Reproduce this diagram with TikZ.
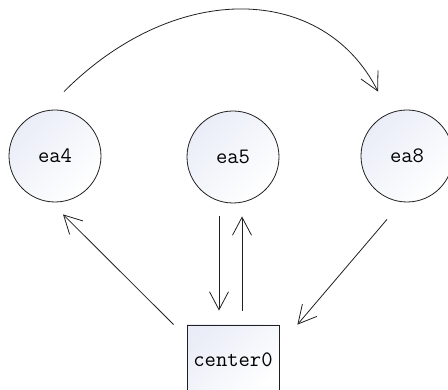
\documentclass[tikz,border=0pt]{standalone}
\usetikzlibrary{arrows.meta,calc}
\definecolor{nodetint}{HTML}{EAEDF7}
\definecolor{inkline}{HTML}{202020}
\tikzset{
  x=1pt,y=1pt,
  every node/.style={font=\fontsize{22}{25}\selectfont\ttfamily},
  roundnode/.style={circle,draw=inkline,line width=0.8pt,minimum size=92pt,inner sep=0pt,
    top color=nodetint,bottom color=white,shading angle=45},
  boxnode/.style={rectangle,draw=inkline,line width=0.8pt,minimum width=92pt,minimum height=70pt,inner sep=0pt,
    top color=nodetint,bottom color=white,shading angle=45},
  link/.style={draw=inkline,line width=0.8pt,-{Straight Barb[length=18pt,width=19pt]}},
}
\begin{document}
\begin{tikzpicture}
\useasboundingbox (0,0) rectangle (448,390);
\clip (0,0) rectangle (448,390);

\node[roundnode] (ea4) at (55,234) {ea4};
\node[roundnode] (ea5) at (233,233) {ea5};
\node[roundnode] (ea8) at (407,234) {ea8};
\node[boxnode] (center0) at (233,30) {center0};

% arc over the top, ea4 to ea8
\draw[link] ($(ea4.north)+(9,18)$) .. controls +(113,113) and +(-54,107) .. ($(ea8.north)+(-29,18)$);

% links around center0
\draw[link] ($(center0.north west)+(-13,0)$) -- ($(ea4.south)+(8,-12)$);
\draw[link] ($(ea5.south)+(-14,-13)$) -- ($(center0.north)+(-14,14)$);
\draw[link] ($(center0.north)+(9,14)$) -- ($(ea5.south)+(9,-13)$);
\draw[link] ($(ea8.south)+(-20,-17)$) -- ($(center0.north east)+(18,0)$);
\end{tikzpicture}
\end{document}
